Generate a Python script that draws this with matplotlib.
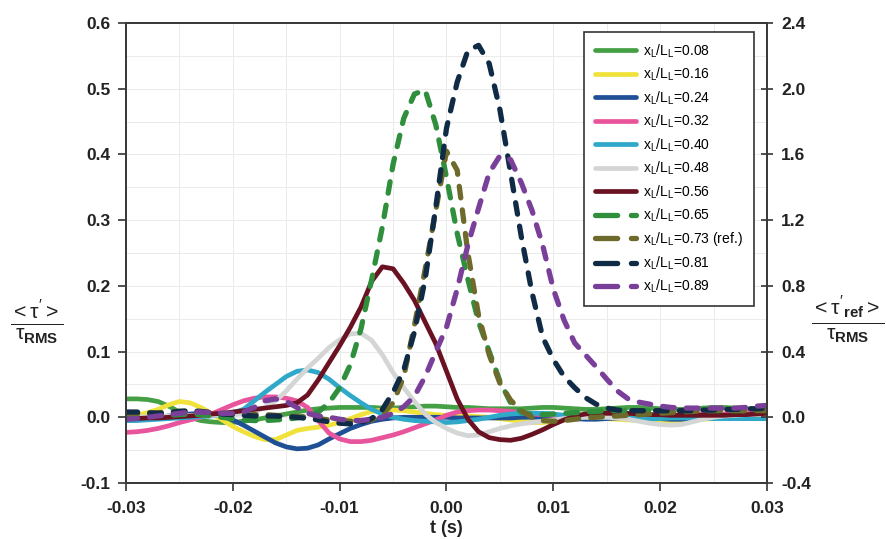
import numpy as np
import matplotlib
matplotlib.use("Agg")
import matplotlib.pyplot as plt
from matplotlib.lines import Line2D
from matplotlib.ticker import MultipleLocator, FormatStrFormatter

plt.rcParams['font.family'] = ['Liberation Sans', 'DejaVu Sans']
plt.rcParams['mathtext.fontset'] = 'custom'
plt.rcParams['mathtext.rm'] = 'Liberation Sans'
plt.rcParams['mathtext.it'] = 'Liberation Sans'
plt.rcParams['mathtext.bf'] = 'Liberation Sans:bold'

# time in ms, converted to s below
t_ms = list(range(-30, 31))

green_008 = [0.028, 0.028, 0.027, 0.024, 0.017, 0.008, 0.000, -0.005, -0.007, -0.008,
             -0.008, -0.006, -0.004, -0.001, 0.002, 0.005, 0.008, 0.011, 0.013, 0.014,
             0.015, 0.015, 0.015, 0.015, 0.014, 0.014, 0.015, 0.016, 0.017, 0.017,
             0.016, 0.015, 0.015, 0.014, 0.013, 0.013, 0.013, 0.013, 0.014, 0.015,
             0.015, 0.014, 0.013, 0.012, 0.012, 0.013, 0.014, 0.015, 0.015, 0.014,
             0.013, 0.012, 0.012, 0.013, 0.014, 0.015, 0.015, 0.014, 0.013, 0.012, 0.012]
yellow_016 = [0.000, 0.003, 0.007, 0.012, 0.019, 0.024, 0.022, 0.015, 0.006, -0.004,
              -0.014, -0.022, -0.029, -0.034, -0.034, -0.027, -0.020, -0.017, -0.015, -0.012,
              -0.008, -0.002, 0.004, 0.009, 0.011, 0.011, 0.010, 0.008, 0.006, 0.004,
              0.003, 0.003, 0.002, 0.001, 0.000, -0.002, -0.004, -0.006, -0.008, -0.008,
              -0.006, -0.004, -0.002, -0.001, -0.001, -0.002, -0.003, -0.004, -0.005, -0.005,
              -0.005, -0.005, -0.005, -0.004, -0.003, -0.002, -0.001, -0.001, -0.002, -0.002, -0.002]
blue_024 = [-0.005, -0.004, -0.002, 0.000, 0.002, 0.004, 0.005, 0.006, 0.005, 0.002,
            -0.004, -0.012, -0.021, -0.030, -0.039, -0.045, -0.048, -0.047, -0.042, -0.033,
            -0.025, -0.017, -0.011, -0.006, -0.003, -0.001, 0.000, 0.000, 0.000, 0.000,
            0.000, -0.001, -0.001, -0.001, -0.001, -0.001, -0.001, 0.000, 0.000, 0.000,
            0.000, -0.001, -0.002, -0.003, -0.003, -0.002, -0.001, 0.000, 0.000, -0.001,
            -0.002, -0.003, -0.003, -0.002, -0.001, 0.000, 0.000, -0.001, -0.002, -0.002, -0.002]
pink_032 = [-0.023, -0.022, -0.020, -0.017, -0.013, -0.008, -0.004, 0.000, 0.005, 0.012,
            0.019, 0.025, 0.029, 0.031, 0.031, 0.029, 0.025, 0.015, -0.005, -0.024,
            -0.033, -0.037, -0.037, -0.035, -0.031, -0.027, -0.022, -0.016, -0.010, -0.004,
            0.003, 0.008, 0.010, 0.011, 0.011, 0.010, 0.009, 0.007, 0.005, 0.004,
            0.003, 0.002, 0.002, 0.002, 0.002, 0.003, 0.003, 0.003, 0.002, 0.002,
            0.002, 0.003, 0.004, 0.005, 0.005, 0.005, 0.005, 0.006, 0.008, 0.012, 0.015]
cyan_040 = [-0.005, -0.005, -0.004, -0.003, -0.002, -0.001, 0.000, 0.001, 0.002, 0.004,
            0.007, 0.012, 0.025, 0.038, 0.050, 0.062, 0.070, 0.072, 0.068, 0.058,
            0.045, 0.033, 0.022, 0.012, 0.005, 0.000, -0.003, -0.005, -0.006, -0.007,
            -0.008, -0.007, -0.005, -0.003, 0.000, 0.003, 0.005, 0.006, 0.006, 0.006,
            0.005, 0.003, 0.001, 0.000, 0.000, 0.000, 0.000, -0.001, -0.002, -0.003,
            -0.002, -0.001, -0.001, -0.001, -0.002, -0.002, -0.002, -0.002, -0.002, -0.002, -0.002]
grey_048 = [0.000, 0.000, 0.001, 0.002, 0.002, 0.003, 0.003, 0.003, 0.003, 0.003,
            0.004, 0.005, 0.008, 0.015, 0.025, 0.040, 0.058, 0.075, 0.090, 0.106,
            0.118, 0.127, 0.128, 0.117, 0.095, 0.068, 0.045, 0.024, 0.005, -0.008,
            -0.017, -0.024, -0.028, -0.027, -0.022, -0.017, -0.013, -0.010, -0.008, -0.006,
            -0.004, -0.002, -0.001, 0.000, 0.000, 0.000, -0.001, -0.003, -0.006, -0.009,
            -0.011, -0.012, -0.011, -0.007, -0.003, 0.000, 0.002, 0.003, 0.004, 0.004, 0.004]
maroon_056 = [-0.002, -0.002, -0.001, -0.001, 0.000, 0.001, 0.002, 0.003, 0.005, 0.006,
              0.008, 0.010, 0.012, 0.014, 0.016, 0.018, 0.022, 0.034, 0.057, 0.083,
              0.109, 0.137, 0.168, 0.207, 0.229, 0.226, 0.204, 0.178, 0.145, 0.112,
              0.070, 0.028, -0.003, -0.022, -0.031, -0.034, -0.035, -0.032, -0.026, -0.019,
              -0.011, -0.004, 0.002, 0.005, 0.006, 0.006, 0.006, 0.006, 0.005, 0.004,
              0.004, 0.003, 0.003, 0.003, 0.003, 0.003, 0.003, 0.004, 0.004, 0.005, 0.006]
green_065 = [0.005, 0.005, 0.004, 0.003, 0.003, 0.004, 0.005, 0.004, 0.002, 0.000,
             -0.002, -0.004, -0.005, -0.005, -0.004, -0.003, -0.001, 0.002, 0.008, 0.022,
             0.045, 0.080, 0.135, 0.210, 0.290, 0.385, 0.455, 0.492, 0.498, 0.445,
             0.365, 0.280, 0.210, 0.145, 0.100, 0.055, 0.022, 0.008, 0.004, 0.004,
             0.005, 0.006, 0.007, 0.008, 0.009, 0.010, 0.010, 0.010, 0.010, 0.010,
             0.010, 0.010, 0.010, 0.010, 0.010, 0.010, 0.010, 0.010, 0.010, 0.011, 0.012]
olive_073 = [0.006, 0.006, 0.006, 0.007, 0.008, 0.009, 0.009, 0.008, 0.007, 0.006,
             0.005, 0.004, 0.004, 0.004, 0.003, 0.002, 0.001, 0.000, -0.002, -0.004,
             -0.005, -0.006, -0.006, -0.004, 0.004, 0.022, 0.062, 0.140, 0.225, 0.315,
             0.405, 0.376, 0.250, 0.155, 0.095, 0.052, 0.026, 0.010, 0.000, -0.005,
             -0.006, -0.005, -0.003, -0.001, 0.000, 0.001, 0.002, 0.003, 0.004, 0.005,
             0.006, 0.007, 0.008, 0.009, 0.010, 0.011, 0.011, 0.011, 0.010, 0.010, 0.010]
navy_081 = [0.008, 0.008, 0.007, 0.006, 0.007, 0.009, 0.010, 0.009, 0.007, 0.005,
            0.004, 0.003, 0.002, 0.002, 0.002, 0.001, 0.000, -0.002, -0.004, -0.007,
            -0.009, -0.010, -0.008, -0.002, 0.012, 0.038, 0.072, 0.130, 0.210, 0.320,
            0.440, 0.510, 0.558, 0.566, 0.538, 0.468, 0.372, 0.275, 0.190, 0.122,
            0.088, 0.062, 0.045, 0.030, 0.020, 0.014, 0.011, 0.010, 0.010, 0.010,
            0.010, 0.010, 0.010, 0.010, 0.011, 0.011, 0.012, 0.012, 0.013, 0.013, 0.014]
purple_089 = [-0.003, -0.002, 0.000, 0.002, 0.004, 0.006, 0.008, 0.008, 0.007, 0.006,
              0.006, 0.008, 0.015, 0.025, 0.028, 0.024, 0.015, 0.006, 0.002, 0.000,
              -0.003, -0.005, -0.005, -0.003, 0.000, 0.006, 0.016, 0.032, 0.062, 0.100,
              0.137, 0.195, 0.262, 0.318, 0.372, 0.398, 0.392, 0.357, 0.315, 0.262,
              0.195, 0.148, 0.113, 0.095, 0.077, 0.058, 0.040, 0.028, 0.023, 0.020,
              0.017, 0.015, 0.014, 0.014, 0.014, 0.014, 0.014, 0.014, 0.015, 0.017, 0.018]

labels = ["0.08", "0.16", "0.24", "0.32", "0.40", "0.48", "0.56",
          "0.65", "0.73 (ref.)", "0.81", "0.89"]
series = [green_008, yellow_016, blue_024, pink_032, cyan_040, grey_048, maroon_056,
          green_065, olive_073, navy_081, purple_089]
colors = ["#45a045", "#f0e23a", "#1f4f95", "#e8559c", "#2fa8c9", "#d4d6d6", "#6a1222",
          "#2f8f3c", "#6e6a2c", "#102b45", "#7a3f98"]
dashed = [False] * 7 + [True] * 4

t = np.array(t_ms) / 1000.0

fig = plt.figure(figsize=(8.86, 5.39), dpi=100)
ax = fig.add_axes([0.1422, 0.1039, 0.7235, 0.8534])

handles = []
for vals, lab, col, dsh in zip(series, labels, colors, dashed):
    name = r"x$_\mathrm{L}$/L$_\mathrm{L}$=" + lab
    if dsh:
        ax.plot(t, vals, color=col, lw=3.8, dashes=(2.2, 2.3),
                dash_capstyle="round", solid_joinstyle="round")
        handles.append(Line2D([], [], color=col, lw=3.8, dashes=(4.2, 2.6),
                              dash_capstyle="round", label=name))
    else:
        ax.plot(t, vals, color=col, lw=3.4,
                solid_capstyle="round", solid_joinstyle="round")
        handles.append(Line2D([], [], color=col, lw=3.4, solid_capstyle="round",
                              label=name))

ax.set_xlim(-0.03, 0.03)
ax.set_ylim(-0.1, 0.6)
ax.xaxis.set_major_locator(MultipleLocator(0.01))
ax.xaxis.set_minor_locator(MultipleLocator(0.005))
ax.yaxis.set_major_locator(MultipleLocator(0.1))
ax.yaxis.set_minor_locator(MultipleLocator(0.05))
ax.xaxis.set_major_formatter(FormatStrFormatter("%.2f"))
ax.yaxis.set_major_formatter(FormatStrFormatter("%.1f"))
ax.grid(which="both", color="#ebebeb", lw=0.7)
ax.set_axisbelow(True)
ax.tick_params(which="minor", length=0)
ax.tick_params(which="major", direction="out", length=6, width=1.2, color="#333333",
               labelsize=12.5, pad=5)
ax.tick_params(axis="x", pad=7)
for lab in ax.get_xticklabels() + ax.get_yticklabels():
    lab.set_fontweight("bold")
    lab.set_color("#222222")
for sp in ax.spines.values():
    sp.set_color("#3a3a3a")
    sp.set_linewidth(1.3)

ax2 = ax.twinx()
ax2.set_ylim(-0.4, 2.4)
ax2.yaxis.set_major_locator(MultipleLocator(0.4))
ax2.yaxis.set_major_formatter(FormatStrFormatter("%.1f"))
ax2.tick_params(direction="inout", length=8, width=1.2, color="#333333", labelsize=12.5, pad=6)
for lab in ax2.get_yticklabels():
    lab.set_fontweight("bold")
    lab.set_color("#222222")
for sp in ax2.spines.values():
    sp.set_color("#3a3a3a")
    sp.set_linewidth(1.3)

ax.set_xlabel("t (s)", fontsize=13, fontweight="bold", color="#222222", labelpad=3)

fig.text(0.042, 0.403, r"$\frac{<\tau'>}{\tau_\mathbf{RMS}}$", fontsize=22,
         ha="center", va="center", color="#222222")
fig.text(0.957, 0.407, r"$\frac{<\tau'_\mathbf{ref}>}{\tau_\mathbf{RMS}}$", fontsize=22,
         ha="center", va="center", color="#222222")

leg = ax2.legend(handles=handles, loc="upper right",
                 bbox_to_anchor=(0.979, 0.981), borderaxespad=0, fontsize=10,
                 handlelength=3.0, labelspacing=0.44, borderpad=0.75, handletextpad=0.5,
                 fancybox=False, framealpha=1, edgecolor="#333333")
leg.get_frame().set_linewidth(1.2)

fig.savefig("out.png", dpi=100)
